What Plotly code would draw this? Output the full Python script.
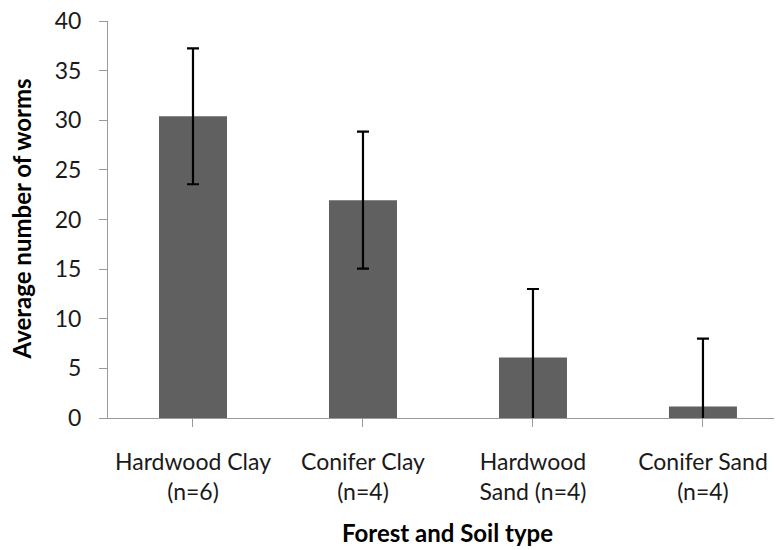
import plotly.graph_objects as go

categories = ["Hardwood Clay<br>(n=6)", "Conifer Clay<br>(n=4)", "Hardwood<br>Sand (n=4)", "Conifer Sand<br>(n=4)"]
means = [30.4, 21.95, 6.1, 1.15]
errors = [6.85, 6.9, 6.9, 6.85]
y_ticks = [0, 5, 10, 15, 20, 25, 30, 35, 40]

FONT = "Lato"
AXIS_GRAY = "#9a9a9a"

# page body has an 8px margin, so the figure is drawn 8px in from the top-left
W, H = 774, 542
ML, MT, MB = 100, 13, 132
plot_h = H - MT - MB
plot_w = W - ML

fig = go.Figure(
    go.Bar(
        x=list(range(len(categories))),
        y=means,
        width=0.4,
        marker=dict(color="#606060", line=dict(width=0)),
        error_y=dict(type="data", array=errors, visible=True,
                     color="black", thickness=2.2, width=6),
        cliponaxis=True,
    )
)

fig.update_layout(
    width=W, height=H,
    margin=dict(l=ML, r=0, t=MT, b=MB, autoexpand=False),
    paper_bgcolor="white", plot_bgcolor="white",
    showlegend=False,
    font=dict(family=FONT, color="#1a1a1a"),
    annotations=[
        dict(text="<b>Forest and Soil type</b>", x=1.5, xref="x",
             y=(H - MB - 524) / plot_h, yref="paper", showarrow=False,
             font=dict(family=FONT, size=24, color="black"),
             xanchor="center", yanchor="middle"),
        dict(text="<b>Average number of worms</b>", x=(13 - ML) / plot_w, xref="paper",
             y=0.5, yref="paper", showarrow=False, textangle=-90,
             font=dict(family=FONT, size=24, color="black"),
             xanchor="center", yanchor="middle"),
    ],
)

fig.update_xaxes(
    tickmode="array", tickvals=list(range(len(categories))), ticktext=categories,
    range=[-0.5, 3.465], tickson="boundaries", automargin=False,
    showline=True, linecolor=AXIS_GRAY, linewidth=1,
    ticks="outside", ticklen=8, tickcolor=AXIS_GRAY,
    showgrid=False, zeroline=False,
    tickfont=dict(family=FONT, size=23, color="#1a1a1a"),
    ticklabelstandoff=15, ticklabeloverflow="allow",
)

fig.update_yaxes(
    range=[0, 40], tickvals=y_ticks, automargin=False,
    showline=True, linecolor=AXIS_GRAY, linewidth=1,
    ticks="outside", ticklen=8, tickcolor=AXIS_GRAY,
    showgrid=False, zeroline=False,
    tickfont=dict(family=FONT, size=23, color="#1a1a1a"),
    ticklabelstandoff=13, ticklabeloverflow="allow",
)

fig.write_html("out.html")
